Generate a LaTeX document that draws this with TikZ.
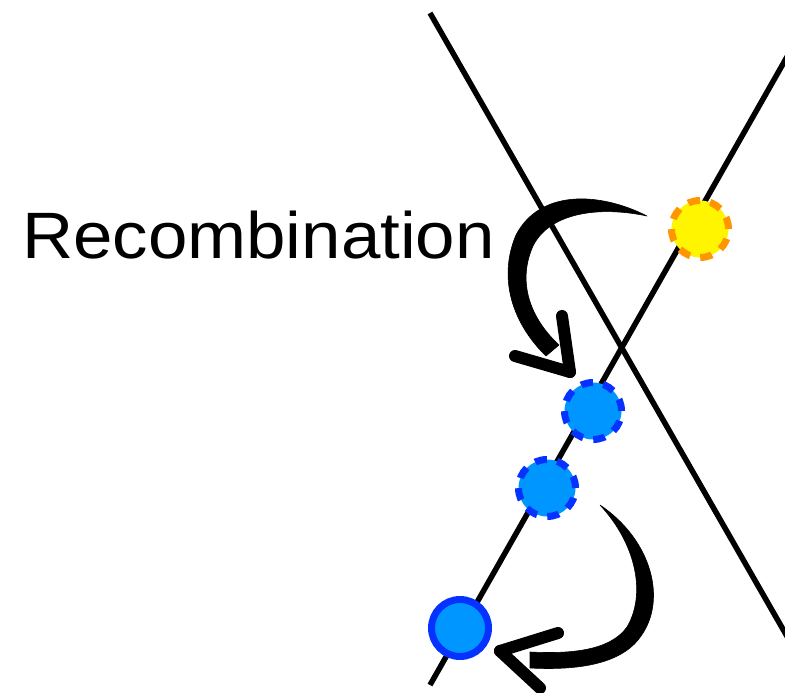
\documentclass[tikz,border=0pt]{standalone}
\usepackage{fontspec}
\setmainfont{Liberation Sans}
\definecolor{sunfill}{RGB}{255,245,0}
\definecolor{sunedge}{RGB}{255,150,0}
\definecolor{dotfill}{RGB}{0,150,255}
\definecolor{dotedge}{RGB}{5,50,255}
\tikzset{
  chromo/.style={line width=5.5pt, black},
  dashdot/.style={circle, inner sep=0pt, minimum size=57pt, line width=7pt,
    dash pattern=on 12pt off 10.4pt},
  sundot/.style={dashdot, draw=sunedge, fill=sunfill},
  bluedot/.style={dashdot, draw=dotedge, fill=dotfill},
  solidblue/.style={circle, inner sep=0pt, minimum size=57pt, line width=7pt,
    draw=dotedge, fill=dotfill},
  brush/.style={fill=black, draw=black, line width=0.6pt, line join=round},
  brushhead/.style={black, line width=12pt, line cap=round},
  label/.style={anchor=base west, inner sep=0pt, text=black}
}
\begin{document}
\begin{tikzpicture}[x=1pt,y=-1pt]
  \useasboundingbox (0,0) rectangle (785,693);
  \begin{scope}
    \clip (0,0) rectangle (785,693);
    % the two crossing chromatids
    \coordinate (a1) at (430,13);
    \coordinate (a2) at (800,659);
    \coordinate (b1) at (430,685);
    \coordinate (b2) at (800,34);
    \draw[chromo] (a1) -- (a2);
    \draw[chromo] (b1) -- (b2);

    % upper brush-stroke arrow
    \fill[brush] (647,216) .. controls (600,192) and (540,189) .. (516,235)
      .. controls (497,280) and (514,325) .. (546,356)
      -- (559,345)
      .. controls (530,318) and (517,282) .. (533,246)
      .. controls (550,212) and (600,206) .. (647,216) -- cycle;
    \coordinate (h1tip) at (570,372);
    \coordinate (h1a) at (562,316);
    \coordinate (h1b) at (515,356);
    \draw[brushhead] (h1a) -- (h1tip);
    \draw[brushhead] (h1b) -- (h1tip);

    % lower brush-stroke arrow
    \fill[brush] (600,505) .. controls (652,540) and (667,600) .. (641,636)
      .. controls (620,667) and (570,670) .. (530,668)
      -- (530,652)
      .. controls (570,654) and (610,651) .. (627,627)
      .. controls (646,595) and (637,545) .. (600,505) -- cycle;
    \coordinate (h2tip) at (500,651);
    \coordinate (h2a) at (558,633);
    \coordinate (h2b) at (540,688);
    \draw[brushhead] (h2a) -- (h2tip);
    \draw[brushhead] (h2tip) -- (h2b);
  \end{scope}

  % markers on the chromatids
  \node[sundot] (sun) at (700,229) {};
  \node[bluedot] (blueA) at (593,411) {};
  \node[bluedot] (blueB) at (547,488) {};
  \node[solidblue] (blueC) at (460,628) {};

  % caption
  \node[label] (rec) at (22,258)
    {\fontsize{65.6}{70}\selectfont\scalebox{1.08}[1]{Recombination}};
\end{tikzpicture}
\end{document}
